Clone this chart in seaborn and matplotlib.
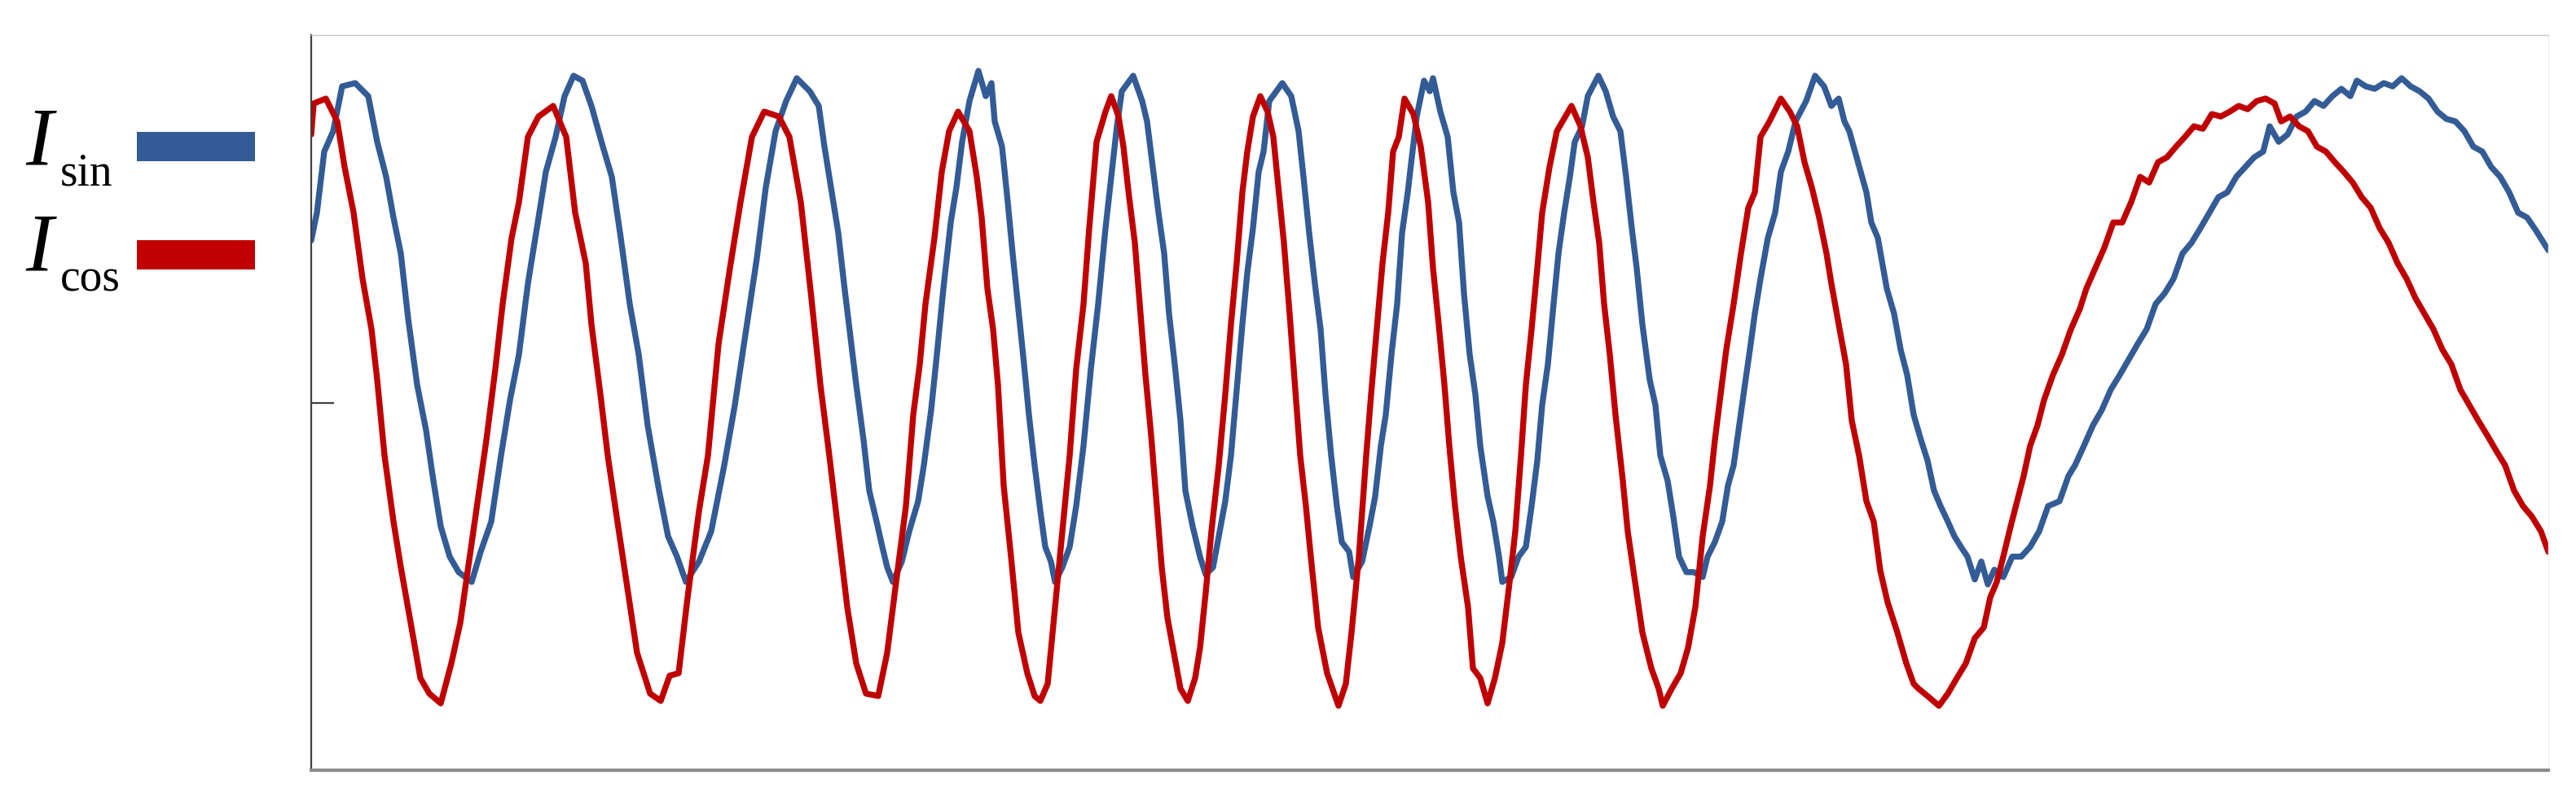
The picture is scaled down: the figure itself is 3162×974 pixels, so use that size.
import matplotlib
matplotlib.use('Agg')

import matplotlib.pyplot as plt
import matplotlib.patches as mpatches
import seaborn as sns
import pandas as pd

sns.set_theme(style="white")
plt.rcParams['font.family'] = ['Liberation Serif', 'DejaVu Serif']

# sample index and signal (arbitrary counts)
sin_t = [0, 7, 16, 27, 38, 54, 70, 81, 92, 101, 110, 119, 130, 141, 150, 159, 170, 181, 197, 208,
         221, 233, 244, 255, 266, 277, 288, 300, 311, 322, 333, 344, 358, 369, 380, 391, 402, 413, 427, 438,
         449, 460, 476, 491, 507, 520, 534, 547, 558, 570, 583, 596, 612, 623, 630, 638, 647, 654, 663, 669,
         678, 685, 694, 701, 707, 714, 725, 734, 745, 752, 761, 768, 776, 785, 792, 799, 808, 819, 828, 835,
         839, 848, 855, 861, 868, 875, 881, 888, 895, 901, 908, 913, 922, 931, 939, 948, 957, 966, 975, 982,
         989, 995, 1009, 1020, 1026, 1033, 1040, 1047, 1053, 1060, 1067, 1073, 1082, 1091, 1098, 1107, 1114, 1122, 1129, 1136,
         1143, 1149, 1156, 1163, 1169, 1176, 1192, 1203, 1212, 1218, 1225, 1232, 1239, 1245, 1252, 1259, 1265, 1274, 1279, 1290,
         1299, 1306, 1313, 1319, 1326, 1333, 1339, 1346, 1351, 1357, 1366, 1373, 1377, 1386, 1395, 1402, 1409, 1415, 1422, 1429,
         1435, 1444, 1451, 1458, 1462, 1473, 1482, 1491, 1498, 1505, 1511, 1518, 1525, 1531, 1538, 1545, 1551, 1560, 1567, 1580,
         1589, 1598, 1607, 1614, 1621, 1627, 1634, 1643, 1650, 1656, 1665, 1672, 1679, 1688, 1697, 1708, 1714, 1723, 1732, 1739,
         1746, 1752, 1759, 1766, 1772, 1779, 1788, 1797, 1804, 1813, 1822, 1835, 1846, 1857, 1866, 1875, 1882, 1888, 1895, 1902,
         1909, 1915, 1923, 1934, 1943, 1951, 1959, 1967, 1976, 1984, 1992, 2000, 2009, 2017, 2025, 2033, 2042, 2050, 2058, 2066,
         2077, 2088, 2099, 2110, 2121, 2132, 2146, 2157, 2165, 2176, 2187, 2198, 2209, 2220, 2231, 2242, 2253, 2264, 2275, 2286,
         2297, 2308, 2319, 2330, 2341, 2352, 2363, 2374, 2385, 2396, 2404, 2415, 2426, 2437, 2448, 2459, 2470, 2481, 2492, 2503,
         2511, 2522, 2533, 2544, 2555, 2566, 2577, 2588, 2599, 2610, 2621, 2632, 2643, 2654, 2665, 2676, 2687, 2698, 2709, 2720,
         2731, 2746]
sin_v = [199, 233, 308, 333, 388, 392, 376, 320, 277, 227, 183, 103, 22, -34, -96, -152, -189, -208, -220, -183,
         -146, -65, 3, 59, 146, 214, 283, 326, 376, 401, 395, 364, 314, 277, 202, 121, 59, -28, -108, -164,
         -189, -220, -195, -158, -77, -3, 90, 177, 264, 333, 370, 398, 382, 364, 314, 264, 208, 146, 72, 22,
         -46, -108, -146, -177, -202, -220, -195, -158, -121, -77, -9, 59, 140, 221, 264, 320, 370, 407, 376, 392,
         345, 314, 246, 183, 115, 47, -15, -77, -133, -177, -195, -220, -202, -177, -127, -53, 41, 121, 214, 277,
         339, 382, 401, 370, 345, 289, 233, 183, 109, 47, -22, -108, -152, -189, -211, -202, -164, -121, -65, 16,
         96, 159, 214, 283, 308, 370, 392, 376, 333, 277, 208, 146, 90, 10, -65, -127, -171, -183, -214, -195,
         -152, -115, -53, -15, 59, 121, 208, 258, 301, 351, 395, 382, 398, 357, 326, 258, 221, 134, 59, 10,
         -53, -115, -146, -189, -220, -214, -189, -177, -127, -71, -3, 47, 121, 183, 233, 277, 320, 339, 376, 401,
         382, 351, 333, 277, 214, 165, 96, 28, -3, -65, -96, -140, -189, -208, -208, -214, -189, -171, -146, -102,
         -77, -34, 16, 65, 109, 152, 202, 233, 283, 308, 345, 370, 401, 388, 364, 373, 345, 333, 308, 283,
         258, 221, 202, 140, 109, 65, 34, -15, -46, -71, -108, -127, -146, -164, -177, -189, -217, -195, -223, -205,
         -214, -189, -189, -177, -158, -127, -121, -90, -77, -53, -28, -9, 16, 34, 53, 72, 90, 121, 134, 152,
         183, 196, 214, 233, 252, 258, 277, 289, 301, 308, 339, 320, 329, 351, 357, 370, 364, 376, 385, 376,
         395, 388, 385, 392, 388, 398, 388, 382, 373, 357, 348, 345, 333, 314, 308, 289, 277, 258, 233, 227,
         211, 187]

cos_t = [0, 3, 18, 32, 41, 52, 63, 74, 81, 90, 101, 110, 121, 134, 145, 159, 172, 183, 199, 215,
         226, 235, 246, 255, 266, 279, 297, 313, 324, 337, 344, 355, 364, 375, 387, 400, 416, 429, 440, 451,
         462, 476, 487, 500, 514, 527, 541, 556, 574, 587, 601, 614, 625, 636, 647, 658, 669, 681, 696, 707,
         718, 730, 739, 747, 754, 765, 774, 783, 794, 808, 817, 823, 830, 837, 843, 850, 859, 868, 879, 888,
         895, 904, 913, 922, 931, 939, 948, 955, 964, 975, 982, 991, 997, 1004, 1011, 1018, 1024, 1031, 1038, 1044,
         1051, 1060, 1067, 1076, 1085, 1091, 1098, 1105, 1114, 1122, 1129, 1136, 1143, 1149, 1156, 1165, 1174, 1181, 1189, 1194,
         1201, 1207, 1214, 1221, 1227, 1236, 1247, 1261, 1270, 1277, 1286, 1295, 1301, 1308, 1315, 1322, 1328, 1335, 1342, 1353,
         1362, 1371, 1377, 1384, 1391, 1397, 1404, 1411, 1420, 1426, 1435, 1444, 1453, 1462, 1471, 1478, 1485, 1491, 1498, 1505,
         1511, 1520, 1529, 1536, 1547, 1558, 1567, 1574, 1581, 1587, 1594, 1601, 1610, 1616, 1625, 1634, 1645, 1654, 1659, 1670,
         1681, 1690, 1699, 1708, 1717, 1723, 1730, 1737, 1746, 1755, 1764, 1772, 1779, 1790, 1804, 1815, 1824, 1833, 1842, 1851,
         1860, 1866, 1875, 1884, 1891, 1900, 1909, 1918, 1926, 1935, 1947, 1958, 1967, 1973, 1984, 1998, 2009, 2020, 2031, 2042,
         2053, 2061, 2069, 2077, 2086, 2094, 2102, 2110, 2119, 2127, 2138, 2149, 2160, 2171, 2179, 2190, 2201, 2212, 2223, 2234,
         2245, 2256, 2267, 2278, 2289, 2300, 2311, 2322, 2333, 2344, 2355, 2366, 2377, 2388, 2399, 2410, 2418, 2429, 2440, 2451,
         2462, 2473, 2484, 2495, 2506, 2517, 2528, 2539, 2550, 2561, 2572, 2583, 2594, 2605, 2616, 2627, 2638, 2649, 2660, 2671,
         2682, 2693, 2704, 2715, 2726, 2737, 2746]
cos_v = [329, 367, 373, 345, 289, 233, 152, 90, 28, -65, -146, -202, -264, -338, -357, -369, -320, -270, -158, -46,
         41, 121, 202, 246, 326, 351, 364, 326, 233, 171, 96, 10, -65, -140, -220, -307, -357, -366, -335, -332,
         -239, -133, -65, 72, 165, 246, 326, 357, 351, 326, 246, 128, 22, -65, -158, -251, -320, -357, -360, -307,
         -220, -127, -15, 47, 121, 202, 283, 333, 357, 333, 277, 227, 140, 90, 22, -102, -189, -282, -332, -360,
         -366, -345, -251, -158, -65, 41, 121, 214, 320, 357, 376, 351, 314, 252, 196, 109, 34, -40, -127, -202,
         -264, -313, -351, -366, -338, -301, -233, -158, -77, 10, 96, 171, 258, 308, 351, 376, 357, 326, 246, 196,
         109, 28, -65, -127, -189, -276, -332, -372, -345, -282, -189, -65, 10, 90, 171, 233, 308, 326, 373, 354,
         314, 246, 165, 96, 22, -53, -127, -189, -251, -326, -338, -369, -338, -295, -220, -158, -65, 22, 90, 165,
         233, 289, 333, 345, 364, 339, 301, 246, 196, 121, 59, -15, -96, -158, -220, -282, -326, -351, -372, -351,
         -332, -301, -251, -164, -102, -46, 10, 65, 121, 183, 239, 258, 326, 345, 373, 357, 339, 295, 264, 227,
         183, 146, 96, 47, -22, -65, -121, -146, -206, -245, -282, -320, -345, -351, -360, -372, -357, -338, -320, -289,
         -276, -239, -220, -189, -152, -121, -90, -53, -28, 3, 34, 59, 90, 115, 140, 165, 190, 221, 221, 246,
         277, 270, 295, 301, 314, 326, 339, 336, 354, 351, 357, 364, 360, 370, 373, 367, 345, 351, 339, 333,
         314, 308, 295, 283, 270, 252, 239, 214, 196, 171, 152, 128, 109, 90, 65, 47, 16, -3, -22, -40,
         -59, -77, -108, -127, -140, -158, -183]

signals = ['sin', 'cos']
colors = ['#335C96', '#C00000']

df = pd.concat([
    pd.DataFrame({'t': sin_t, 'v': sin_v, 'signal': 'sin'}),
    pd.DataFrame({'t': cos_t, 'v': cos_v, 'signal': 'cos'}),
], ignore_index=True)

W, H = 3162, 974
fig = plt.figure(figsize=(W / 100, H / 100), dpi=100)
ax = fig.add_axes([382 / W, 1 - 946 / H, (3128 - 382) / W, (946 - 43) / H])

sns.lineplot(data=df, x='t', y='v', hue='signal', hue_order=signals,
             palette=dict(zip(signals, colors)), estimator=None, sort=False,
             linewidth=5.3, legend=False, ax=ax)

ax.set_xlim(0, 2746)
ax.set_ylim(-451, 451)
ax.set_xlabel('')
ax.set_ylabel('')
ax.set_xticks([])
ax.set_yticks([0])
ax.set_yticklabels([])
ax.tick_params(axis='y', direction='in', length=20, width=1.6, color='#404040', left=True)

ax.spines['left'].set_color('#404040')
ax.spines['left'].set_linewidth(1.6)
ax.spines['bottom'].set_color('#8c8c8c')
ax.spines['bottom'].set_linewidth(3)
ax.spines['top'].set_color('#c8c8c8')
ax.spines['top'].set_linewidth(1)
ax.spines['right'].set_color('#eeeeee')
ax.spines['right'].set_linewidth(1)

# legend: italic I with a roman subscript, swatch to the right
rows = [(202, 227, 162), (333, 358, 295)]
for (base_i, base_sub, top_patch), name, c in zip(rows, signals, colors):
    fig.text(31 / W, 1 - base_i / H, 'I', fontsize=73, fontstyle='italic',
             ha='left', va='baseline', color='black')
    fig.text(74 / W, 1 - base_sub / H, name, fontsize=40,
             ha='left', va='baseline', color='black')
    fig.add_artist(mpatches.Rectangle((168 / W, 1 - (top_patch + 36) / H), 145 / W, 36 / H,
                                      transform=fig.transFigure, facecolor=c, edgecolor='none'))

plt.savefig('out.png', dpi=100)
